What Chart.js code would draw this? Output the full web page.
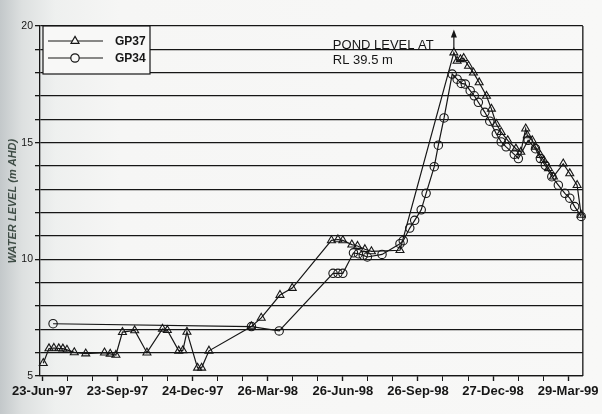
<!DOCTYPE html>
<html>
<head>
<meta charset="utf-8">
<script src="https://cdn.jsdelivr.net/npm/chart.js@4.4.1/dist/chart.umd.min.js"></script>
<style>
  html, body { margin: 0; padding: 0; }
  body {
    width: 602px; height: 414px; overflow: hidden;
    background: linear-gradient(90deg, #c3c8ca 0px, #dde0e0 22px, #eef0ef 55px, #f6f6f5 120px, #f8f8f7 100%);
  }
  #wrap { position: relative; width: 602px; height: 414px; }
</style>
</head>
<body>
<div id="wrap"><canvas id="c" width="602" height="414"></canvas></div>
<script>
// Quarterly date labels on the time axis
const tickLabels = ['23-Jun-97', '23-Sep-97', '24-Dec-97', '26-Mar-98', '26-Jun-98', '26-Sep-98', '27-Dec-98', '29-Mar-99'];

// Bore GP37 readings (water level, m AHD)
const gp37Dates = [
  '24-Jun-97', '1-Jul-97', '7-Jul-97', '13-Jul-97', '18-Jul-97', '23-Jul-97', '1-Aug-97', '15-Aug-97',
  '7-Sep-97', '14-Sep-97', '21-Sep-97', '29-Sep-97', '14-Oct-97', '29-Oct-97', '17-Nov-97', '23-Nov-97',
  '7-Dec-97', '12-Dec-97', '17-Dec-97', '30-Dec-97', '4-Jan-98', '13-Jan-98', '6-Mar-98', '18-Mar-98',
  '10-Apr-98', '25-Apr-98', '12-Jun-98', '20-Jun-98', '26-Jun-98', '7-Jul-98', '14-Jul-98', '23-Jul-98',
  '31-Jul-98', '4-Sep-98', '9-Nov-98', '13-Nov-98', '17-Nov-98', '21-Nov-98', '27-Nov-98', '3-Dec-98',
  '10-Dec-98', '19-Dec-98', '25-Dec-98', '31-Dec-98', '6-Jan-99', '14-Jan-99', '24-Jan-99', '30-Jan-99',
  '5-Feb-99', '7-Feb-99', '13-Feb-99', '17-Feb-99', '23-Feb-99', '27-Feb-99', '5-Mar-99', '11-Mar-99',
  '23-Mar-99', '31-Mar-99', '9-Apr-99', '14-Apr-99'
];
const gp37Levels = [
  5.55, 6.18, 6.20, 6.18, 6.17, 6.12, 6.01, 5.96,
  6.00, 5.95, 5.90, 6.88, 6.95, 6.00, 7.02, 6.96,
  6.08, 6.10, 6.89, 5.35, 5.35, 6.08, 7.12, 7.49,
  8.47, 8.77, 10.81, 10.85, 10.81, 10.63, 10.57, 10.43,
  10.34, 10.39, 18.86, 18.50, 18.57, 18.62, 18.29, 18.00,
  17.58, 17.00, 16.45, 15.80, 15.45, 15.10, 14.74, 14.60,
  15.60, 15.31, 15.10, 14.82, 14.46, 14.25, 13.90, 13.54,
  14.10, 13.68, 13.18, 11.90
];

// Bore GP34 readings (water level, m AHD)
const gp34Dates = [
  '6-Jul-97', '6-Mar-98', '9-Apr-98', '14-Jun-98', '20-Jun-98', '26-Jun-98', '9-Jul-98', '15-Jul-98',
  '21-Jul-98', '26-Jul-98', '13-Aug-98', '4-Sep-98', '8-Sep-98', '16-Sep-98', '22-Sep-98', '30-Sep-98',
  '6-Oct-98', '16-Oct-98', '21-Oct-98', '28-Oct-98', '7-Nov-98', '13-Nov-98', '18-Nov-98', '23-Nov-98',
  '29-Nov-98', '4-Dec-98', '9-Dec-98', '17-Dec-98', '23-Dec-98', '31-Dec-98', '6-Jan-99', '12-Jan-99',
  '22-Jan-99', '27-Jan-99', '8-Feb-99', '17-Feb-99', '23-Feb-99', '1-Mar-99', '9-Mar-99', '17-Mar-99',
  '25-Mar-99', '31-Mar-99', '6-Apr-99', '14-Apr-99'
];
const gp34Levels = [
  7.24, 7.12, 6.93, 9.40, 9.40, 9.40, 10.28, 10.24,
  10.17, 10.10, 10.21, 10.67, 10.80, 11.34, 11.67, 12.12,
  12.83, 13.97, 14.89, 16.06, 17.94, 17.72, 17.54, 17.51,
  17.23, 17.01, 16.73, 16.30, 15.92, 15.38, 15.03, 14.82,
  14.50, 14.32, 15.10, 14.74, 14.32, 14.03, 13.54, 13.18,
  12.83, 12.62, 12.26, 11.84
];

// The pond level arrow rises from the GP37 peak to this level
const arrowTipLevel = 19.85;

const MONTHS = { Jan: 0, Feb: 1, Mar: 2, Apr: 3, May: 4, Jun: 5, Jul: 6, Aug: 7, Sep: 8, Oct: 9, Nov: 10, Dec: 11 };
function dayNumber(s) {
  const [d, m, y] = s.split('-');
  return Date.UTC(1900 + Number(y), MONTHS[m], Number(d)) / 86400000;
}

const ink = '#161616';
const majorTicks = tickLabels.map(dayNumber);
const labelFor = new Map(majorTicks.map((v, i) => [v, tickLabels[i]]));
// two monthly minor ticks between each pair of quarterly labels
const allTicks = [];
majorTicks.forEach((v, i) => {
  allTicks.push(v);
  if (i < majorTicks.length - 1) {
    const step = (majorTicks[i + 1] - v) / 3;
    allTicks.push(v + step, v + 2 * step);
  }
});

const series = (dates, levels) => dates.map((d, i) => ({ x: dayNumber(d), y: levels[i] }));

const overlay = {
  id: 'overlay',
  afterDatasetsDraw(chart) {
    const { ctx, chartArea: a, scales: { x, y } } = chart;
    ctx.save();
    ctx.strokeStyle = ink;
    ctx.fillStyle = ink;

    // right edge of the plot frame
    ctx.lineWidth = 1.3;
    ctx.beginPath();
    ctx.moveTo(a.right, a.top);
    ctx.lineTo(a.right, a.bottom);
    ctx.stroke();

    // arrow above the GP37 peak
    const peakIdx = gp37Levels.indexOf(Math.max(...gp37Levels));
    const p = chart.getDatasetMeta(0).data[peakIdx];
    const tipY = y.getPixelForValue(arrowTipLevel);
    ctx.lineWidth = 1.2;
    ctx.beginPath();
    ctx.moveTo(p.x, p.y - 4);
    ctx.lineTo(p.x, tipY + 5);
    ctx.stroke();
    ctx.beginPath();
    ctx.moveTo(p.x, tipY);
    ctx.lineTo(p.x - 3, tipY + 8);
    ctx.lineTo(p.x + 3, tipY + 8);
    ctx.closePath();
    ctx.fill();

    // pond level note
    const noteX = p.x - 121;
    const baseY = y.getPixelForValue(19);
    ctx.font = '13px "Liberation Sans", Arial, sans-serif';
    ctx.textAlign = 'left';
    ctx.textBaseline = 'alphabetic';
    ctx.fillText('POND LEVEL AT', noteX, baseY - 0.5);
    ctx.fillText('RL 39.5 m', noteX, baseY + 15);

    // legend box
    const bx = a.left + 3, by = a.top, bw = 107, bh = 48;
    ctx.fillStyle = '#f8f8f7';
    ctx.fillRect(bx, by, bw, bh);
    ctx.lineWidth = 1.2;
    ctx.strokeRect(bx, by, bw, bh);
    const entries = [
      { label: 'GP37', style: 'triangle', radius: 4.6 },
      { label: 'GP34', style: 'circle', radius: 4.2 }
    ];
    entries.forEach((e, i) => {
      const ly = by + 15 + i * 17;
      ctx.strokeStyle = ink;
      ctx.lineWidth = 1.2;
      ctx.beginPath();
      ctx.moveTo(bx + 5, ly);
      ctx.lineTo(bx + 60, ly);
      ctx.stroke();
      ctx.fillStyle = '#f8f8f7';
      Chart.helpers.drawPoint(ctx, { pointStyle: e.style, radius: e.radius, borderWidth: 1.1, rotation: 0 }, bx + 32, ly);
      ctx.fillStyle = ink;
      ctx.font = 'bold 12px "Liberation Sans", Arial, sans-serif';
      ctx.textBaseline = 'middle';
      ctx.fillText(e.label, bx + 72, ly + 0.5);
    });
    ctx.restore();
  }
};

new Chart(document.getElementById('c'), {
  type: 'line',
  data: {
    datasets: [
      {
        label: 'GP37',
        data: series(gp37Dates, gp37Levels),
        borderColor: ink, borderWidth: 1.2,
        pointStyle: 'triangle', pointRadius: 4.6,
        pointBorderColor: ink, pointBackgroundColor: 'rgba(0,0,0,0)', pointBorderWidth: 1.1,
        tension: 0, clip: false
      },
      {
        label: 'GP34',
        data: series(gp34Dates, gp34Levels),
        borderColor: ink, borderWidth: 1.2,
        pointStyle: 'circle', pointRadius: 4.2,
        pointBorderColor: ink, pointBackgroundColor: 'rgba(0,0,0,0)', pointBorderWidth: 1.1,
        tension: 0, clip: false
      }
    ]
  },
  options: {
    responsive: false,
    animation: false,
    layout: { padding: { top: 26, right: 19, bottom: 0, left: 0 } },
    plugins: { legend: { display: false }, tooltip: { enabled: false } },
    scales: {
      x: {
        type: 'linear',
        min: majorTicks[0] - 3,
        max: majorTicks[majorTicks.length - 1] + 18,
        afterBuildTicks: s => { s.ticks = allTicks.map(v => ({ value: v })); },
        afterFit: s => { s.height = 38; },
        grid: {
          drawOnChartArea: false, drawTicks: true, tickLength: 5,
          tickColor: ink,
          tickWidth: c => (labelFor.has(c.tick && c.tick.value) ? 1.4 : 1)
        },
        border: { display: true, color: ink, width: 1.3 },
        ticks: {
          autoSkip: false, maxRotation: 0, minRotation: 0, padding: 3,
          color: ink,
          font: { family: '"Liberation Sans", Arial, sans-serif', size: 13, weight: 'bold' },
          callback: v => labelFor.get(v) || ''
        }
      },
      y: {
        min: 5, max: 20,
        afterFit: s => { s.width = 40; },
        ticks: {
          stepSize: 1, padding: 2, color: ink,
          font: { family: '"Liberation Sans", Arial, sans-serif', size: 10.5 },
          callback: v => (v % 5 === 0 ? String(v) : '')
        },
        grid: { color: ink, lineWidth: 1.3, tickLength: 5, tickColor: ink },
        border: { display: true, color: ink, width: 1.3 },
        title: {
          display: true, text: 'WATER LEVEL (m AHD)', color: '#3f4d46',
          padding: { top: 6, bottom: 0 },
          font: { family: '"Liberation Sans", Arial, sans-serif', size: 11, weight: 'bold', style: 'italic' }
        }
      }
    }
  },
  plugins: [overlay]
});
</script>
</body>
</html>
